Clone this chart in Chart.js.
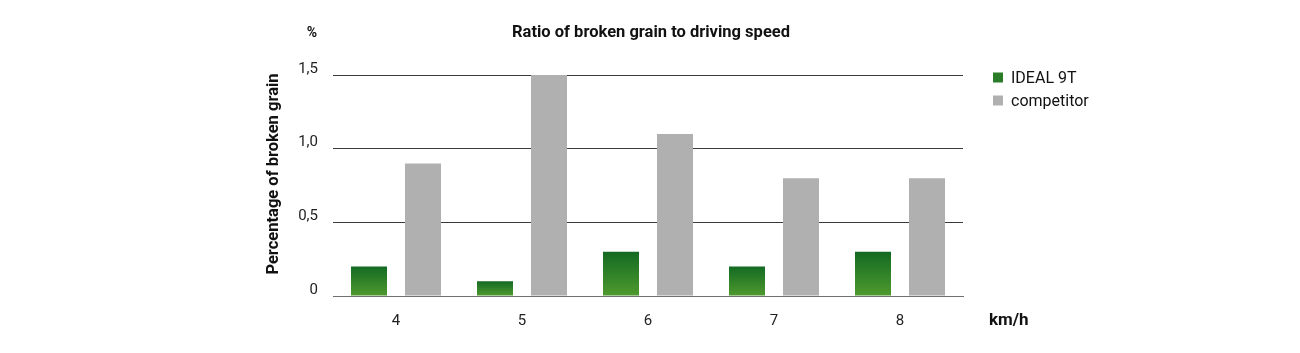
<!DOCTYPE html>
<html>
<head>
<meta charset="utf-8">
<style>
  body { margin: 0; background: #fff; }
  #wrap { width: 1300px; height: 353px; }
</style>
</head>
<body>
<div id="wrap">
    <canvas id="myChart"></canvas>
</div>

<script src="https://cdn.jsdelivr.net/npm/chart.js@4/dist/chart.umd.min.js"></script>
<script>
    // data
    const speeds = ['4', '5', '6', '7', '8']
    const ideal9t = [0.2, 0.1, 0.3, 0.2, 0.3]
    const competitor = [0.9, 1.5, 1.1, 0.8, 0.8]
    const yTickLabels = ['0', '0,5', '1,0', '1,5']

    const FONT = 'Roboto, "Noto Sans", sans-serif'
    const legendColors = ['#2b7c28', '#b0b0b0']

    function greenFill(c) {
        const chart = c.chart
        const y = chart.scales.y
        if (!chart.chartArea || !y || c.raw == null) return legendColors[0]
        const top = y.getPixelForValue(c.raw)
        const bottom = y.getPixelForValue(0)
        const g = chart.ctx.createLinearGradient(0, top, 0, bottom)
        g.addColorStop(0, '#136a22')
        g.addColorStop(1, '#4f9a2e')
        return g
    }

    // title, axis names and legend drawn straight on the canvas
    const extras = {
        id: 'extras',
        afterDraw(chart) {
            const ctx = chart.ctx
            ctx.save()
            ctx.fillStyle = '#111'
            ctx.textBaseline = 'middle'
            ctx.font = 'bold 16.5px ' + FONT
            ctx.textAlign = 'center'
            ctx.fillText('Ratio of broken grain to driving speed', 651, 33)
            ctx.font = 'bold 14px ' + FONT
            ctx.fillText('%', 312, 33)
            ctx.font = 'bold 17px ' + FONT
            ctx.textAlign = 'left'
            ctx.fillText('km/h', 989, 321)

            ctx.save()
            ctx.translate(274, 174)
            ctx.rotate(-Math.PI / 2)
            ctx.textAlign = 'center'
            ctx.font = 'bold 16.5px ' + FONT
            ctx.fillText('Percentage of broken grain', 0, 0)
            ctx.restore()

            ctx.font = '16px ' + FONT
            chart.data.datasets.forEach((ds, i) => {
                const cy = 77.5 + i * 23
                ctx.fillStyle = legendColors[i]
                ctx.fillRect(993, cy - 5, 10, 10)
                ctx.fillStyle = '#111'
                ctx.fillText(ds.label, 1011, cy + 1)
            })
            ctx.restore()
        }
    }

    const ctx = document.getElementById('myChart')
    let chart = new Chart(ctx, {
        type: 'bar',
        data: {
            labels: speeds,
            datasets: [{
                label: 'IDEAL 9T',
                data: ideal9t,
                backgroundColor: greenFill
            }, {
                label: 'competitor',
                data: competitor,
                backgroundColor: '#b0b0b0'
            }]
        },
        options: {
            responsive: true,
            maintainAspectRatio: false,
            animation: false,
            categoryPercentage: 0.857,
            barPercentage: 0.667,
            layout: { padding: { left: 256, right: 337, top: 75, bottom: 0 } },
            plugins: {
                legend: { display: false },
                title: { display: false },
                tooltip: { enabled: false }
            },
            scales: {
                x: {
                    grid: { display: false },
                    border: { display: true, color: '#707070', width: 1 },
                    ticks: { color: '#222', font: { family: FONT, size: 15 }, padding: 8 },
                    afterFit: s => { s.height = 57 }
                },
                y: {
                    min: 0,
                    max: 1.5,
                    ticks: {
                        stepSize: 0.5,
                        color: '#222',
                        font: { family: FONT, size: 15 },
                        padding: 15,
                        labelOffset: -6,
                        callback: (v, i) => yTickLabels[i]
                    },
                    grid: {
                        color: c => c.tick && c.tick.value === 0 ? '#707070' : '#3a3a3a',
                        lineWidth: 1,
                        drawTicks: false
                    },
                    border: { display: false },
                    afterFit: s => { s.width = 77 }
                }
            }
        },
        plugins: [extras]
    })
</script>
</body>
</html>
